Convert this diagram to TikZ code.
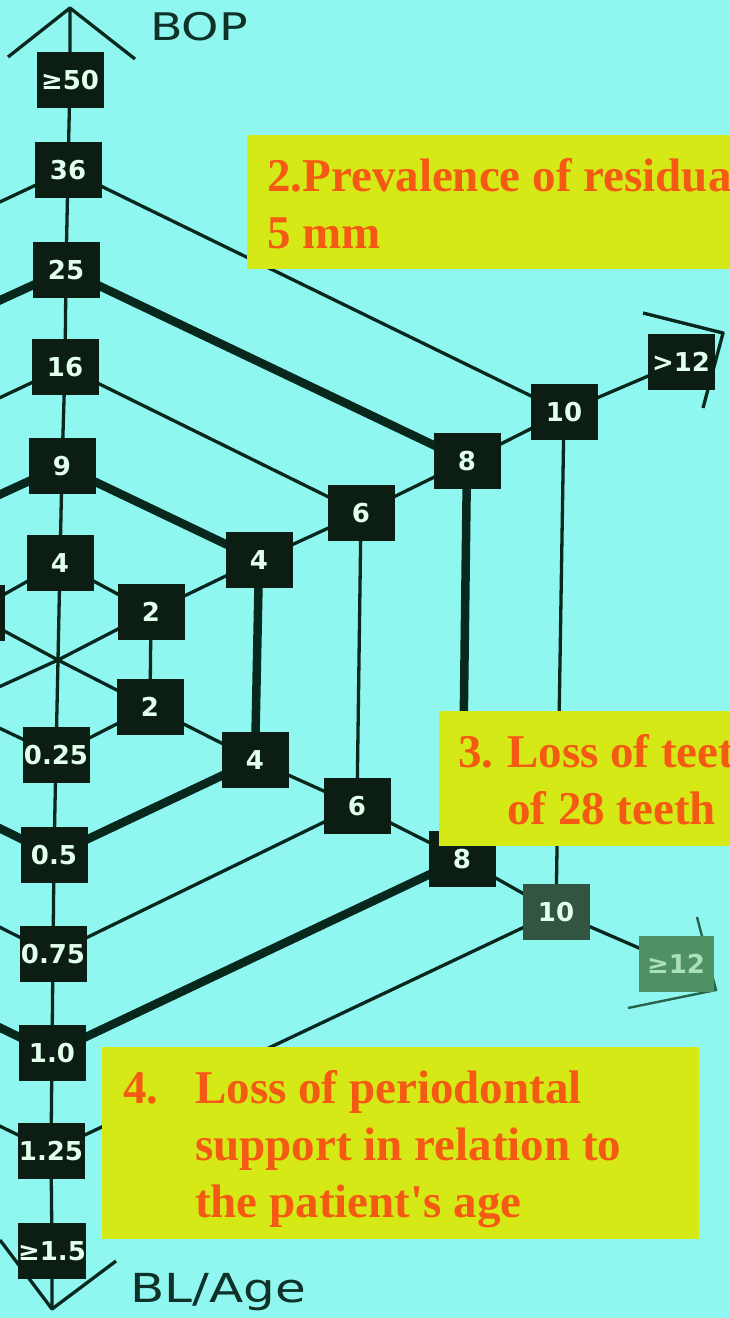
\documentclass[tikz,border=0pt]{standalone}
\usepackage{fontspec}
\usepackage{graphicx}
\newfontfamily\tnr{Liberation Serif}
\newfontfamily\dvs{DejaVu Sans}
\definecolor{bgc}{RGB}{143,247,240}
\definecolor{yel}{RGB}{213,233,22}
\definecolor{org}{RGB}{245,90,20}
\definecolor{boxc}{RGB}{12,30,20}
\definecolor{boxt}{RGB}{225,255,235}
\definecolor{lnc}{RGB}{8,40,30}
\definecolor{lblc}{RGB}{15,50,40}
\definecolor{fadeA}{RGB}{50,85,65}
\definecolor{fadeB}{RGB}{80,145,100}
\definecolor{fadeT}{RGB}{170,225,185}
\definecolor{fadeL}{RGB}{40,100,75}
\pgfdeclarelayer{bgl}\pgfdeclarelayer{lnl}\pgfdeclarelayer{frl}
\pgfsetlayers{bgl,lnl,main,frl}
\tikzset{
  bx/.style={fill=boxc, text=boxt, minimum width=67pt, minimum height=56pt, inner sep=0pt,
    font=\dvs\bfseries\fontsize{26}{26}\selectfont},
  thinln/.style={draw=lnc, line width=3.3pt, line join=round},
  thickln/.style={draw=lnc, line width=8.5pt, line join=round},
  lbl/.style={text=lblc, inner sep=0pt, font=\dvs\fontsize{38}{38}\selectfont},
  ytext/.style={text=org, inner sep=0pt, anchor=base west, font=\tnr\bfseries\fontsize{47}{57}\selectfont}
}
\begin{document}
\begin{tikzpicture}[x=1pt,y=-1pt]
\useasboundingbox (0,0) rectangle (730,1318);
\begin{pgfonlayer}{bgl}
  \fill[bgc] (0,0) rectangle (730,1318);
\end{pgfonlayer}

% BOP axis boxes
\node[bx] (b50) at (70,80) {≥50};
\node[bx] (b36) at (68,170) {36};
\node[bx] (b25) at (66,270) {25};
\node[bx] (b16) at (65,367) {16};
\node[bx] (b9)  at (62,466) {9};
\node[bx] (b4)  at (60,563) {4};
% residual pockets axis
\node[bx] (p2)  at (151,612) {2};
\node[bx] (p4)  at (259,560) {4};
\node[bx] (p6)  at (361,513) {6};
\node[bx] (p8)  at (467,461) {8};
\node[bx] (p10) at (564,412) {10};
\node[bx] (p12) at (681,362) {>12};
% tooth loss axis
\node[bx] (t2)  at (150,707) {2};
\node[bx] (t4)  at (255,760) {4};
\node[bx] (t6)  at (357,806) {6};
\node[bx] (t8)  at (462,859) {8};
\node[bx, fill=fadeA] (t10) at (556,912) {10};
\node[bx, fill=fadeB, text=fadeT, minimum width=75pt] (t12) at (676,964) {≥12};
% BL/Age axis
\node[bx] (l025) at (56,755) {0.25};
\node[bx] (l05)  at (54,855) {0.5};
\node[bx] (l075) at (53,954) {0.75};
\node[bx] (l10)  at (52,1053) {1.0};
\node[bx] (l125) at (51,1151) {1.25};
\node[bx] (l15)  at (52,1251) {≥1.5};
% partly visible box of the upper-left axis
\node[bx] (ul2) at (-29,613) {};

% coordinates
\coordinate (c) at (58,660);
\coordinate (ul4) at (-143,560);
\coordinate (ul6) at (-245,513);
\coordinate (ul8) at (-351,461);
\coordinate (ul10) at (-448,412);
\coordinate (ll2) at (-45,707);
\coordinate (ll4) at (-139,760);
\coordinate (ll6) at (-241,806);
\coordinate (ll8) at (-346,859);
\coordinate (ll10) at (-440,912);
\coordinate (topA) at (70,8);
\coordinate (topL) at (8,57);
\coordinate (topR) at (135,59);
\coordinate (botA) at (52,1309);
\coordinate (botL) at (0,1240);
\coordinate (botR) at (116,1261);
\coordinate (pa1) at (643,313);
\coordinate (pa2) at (723,333);
\coordinate (pa3) at (703,408);
\coordinate (ta1) at (697,917);
\coordinate (ta2) at (716,990);
\coordinate (ta3) at (628,1008);

% labels
\node[lbl, anchor=base west] (bop) at (150,40) {\scalebox{1.25}[1]{BOP}};
\node[lbl, anchor=base west, font=\dvs\fontsize{40}{40}\selectfont] (blage) at (130,1302) {\scalebox{1.25}[1]{BL/Age}};

\begin{pgfonlayer}{lnl}
  % axes
  \draw[thinln] (topL) -- (topA) -- (topR);
  \draw[thinln] (topA) -- (b50.center) -- (b36.center) -- (b25.center) -- (b16.center) -- (b9.center) -- (b4.center) -- (c)
     -- (l025.center) -- (l05.center) -- (l075.center) -- (l10.center) -- (l125.center) -- (l15.center) -- (botA);
  \draw[thinln] (botL) -- (botA) -- (botR);
  \draw[thinln] (ll2) -- (c) -- (p2.center) -- (p4.center) -- (p6.center) -- (p8.center) -- (p10.center) -- (p12.center);
  \draw[thinln] (pa1) -- (pa2) -- (pa3);
  \draw[thinln] (ul2.center) -- (c) -- (t2.center) -- (t4.center) -- (t6.center) -- (t8.center) -- (t10.center);
  \draw[thinln] (t10.center) -- (t12.center);
  \draw[draw=fadeL, line width=2.4pt] (ta1) -- (ta2) -- (ta3);
  % levels
  \draw[thinln]  (ul2.center) -- (b4.center) -- (p2.center) -- (t2.center) -- (l025.center) -- (ll2);
  \draw[thickln] (ul4) -- (b9.center) -- (p4.center) -- (t4.center) -- (l05.center) -- (ll4);
  \draw[thinln]  (ul6) -- (b16.center) -- (p6.center) -- (t6.center) -- (l075.center) -- (ll6);
  \draw[thickln] (ul8) -- (b25.center) -- (p8.center) -- (t8.center) -- (l10.center) -- (ll8);
  \draw[thinln]  (ul10) -- (b36.center) -- (p10.center) -- (t10.center) -- (l125.center) -- (ll10);
\end{pgfonlayer}

\begin{pgfonlayer}{frl}
  \fill[yel] (247,135) rectangle (740,269);
  \node[ytext] (q2) at (267,191) {\vtop{\hbox{2.Prevalence of residual}\hbox{5 mm}}};
  \fill[yel] (439,711) rectangle (740,846);
  \node[ytext] (q3) at (458,767) {\vtop{\hbox{\makebox[49pt][l]{3.}Loss of teeth}\hbox{\hspace{49pt}of 28 teeth}}};
  \fill[yel] (102,1047) rectangle (699,1239);
  \node[ytext] (q4) at (123,1103) {\vtop{\hbox{\makebox[72pt][l]{4.}Loss of periodontal}\hbox{\hspace{72pt}support in relation to}\hbox{\hspace{72pt}the patient's age}}};
\end{pgfonlayer}
\end{tikzpicture}
\end{document}
